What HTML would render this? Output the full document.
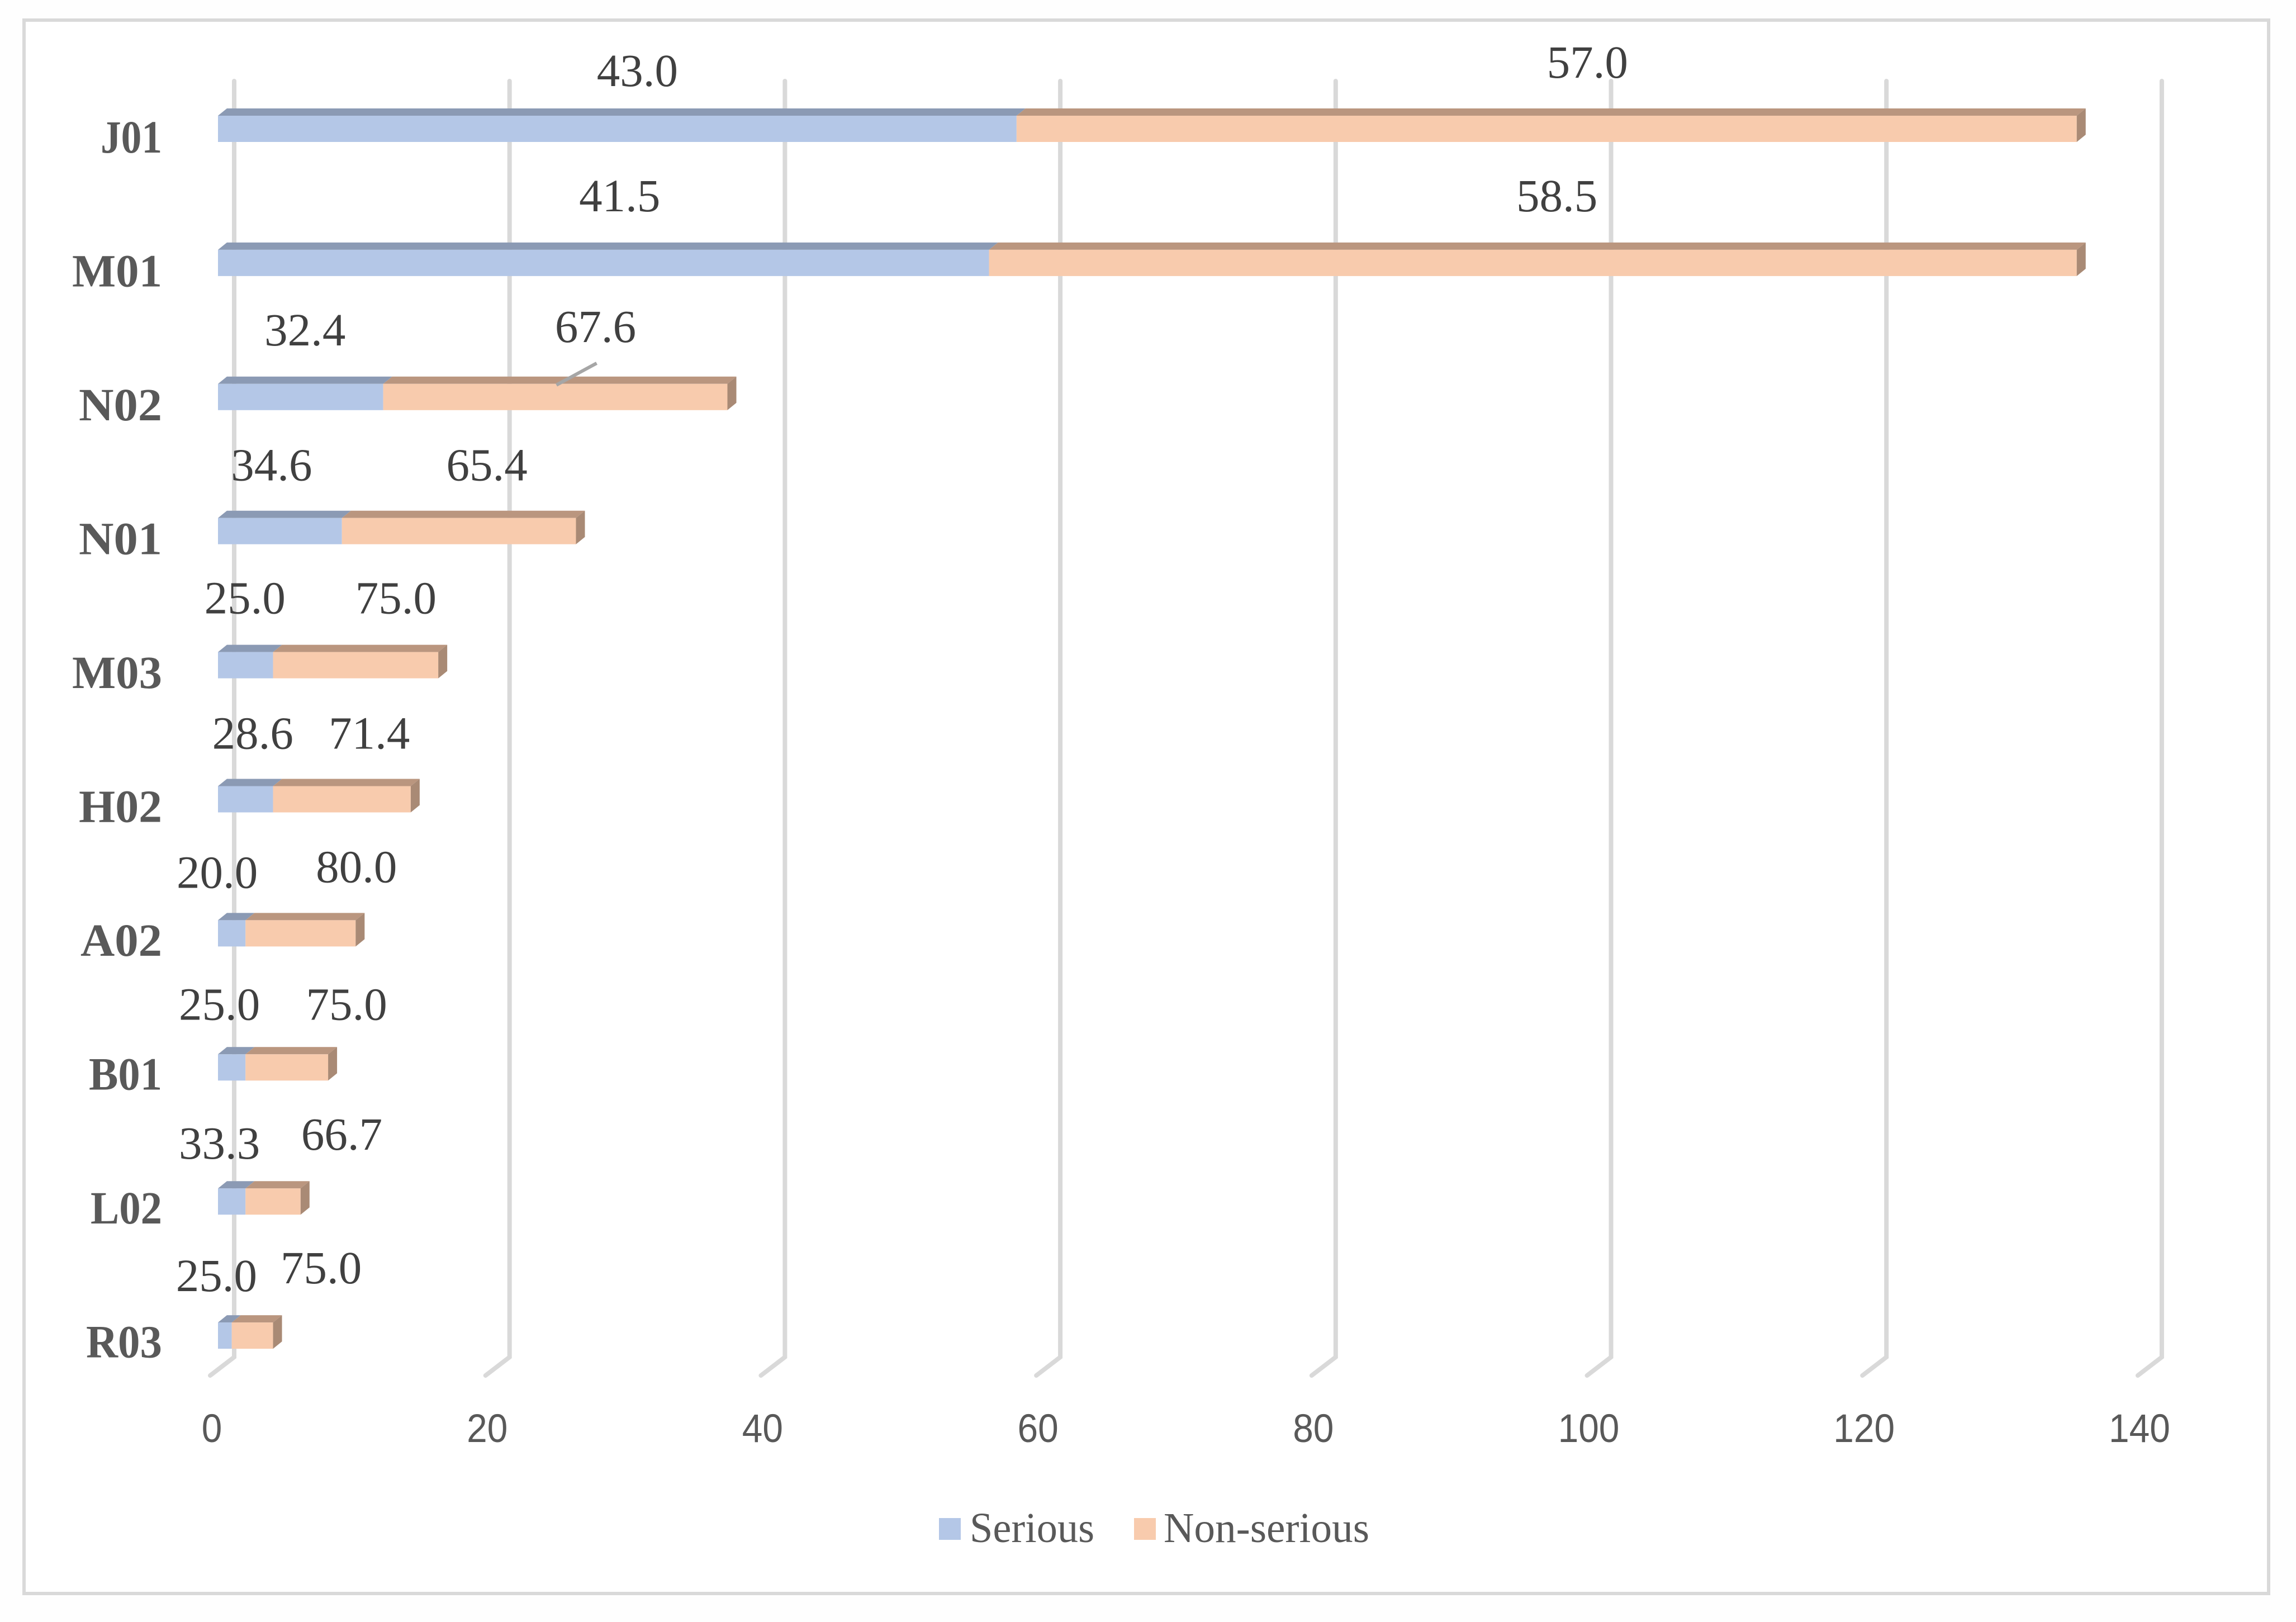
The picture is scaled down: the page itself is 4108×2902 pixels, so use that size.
<!DOCTYPE html>
<html lang="en">
<head>
<meta charset="utf-8">
<title>Serious and non-serious reports by ATC code</title>
<style>
html,body{margin:0;padding:0;background:#fff;}
svg{display:block;}
</style>
</head>
<body>
<svg id="chart" xmlns="http://www.w3.org/2000/svg" width="4108" height="2902" viewBox="0 0 4108 2902">
  <rect x="0" y="0" width="4108" height="2902" fill="#fefefe"/>
  <rect x="43" y="36" width="4016" height="2815" fill="#fff" stroke="#d9d9d9" stroke-width="6"/>
  <g id="grid"></g>
  <g id="bars"></g>
  <g id="labels"></g>
  <g id="cats"></g>
  <g id="ticks"></g>
  <g>
    <g>
      <rect x="1680" y="2716" width="39" height="39" fill="#b4c7e7"/>
      <text x="1735" y="2759" font-family="'Liberation Serif',serif" font-size="76" fill="#595959" textLength="223" lengthAdjust="spacingAndGlyphs">Serious</text>
    </g>
    <g>
      <rect x="2029" y="2716" width="39" height="39" fill="#f8cbad"/>
      <text x="2082" y="2759" font-family="'Liberation Serif',serif" font-size="76" fill="#595959" textLength="368" lengthAdjust="spacingAndGlyphs">Non-serious</text>
    </g>
  </g>
</svg>
<script>
const categories = ["J01","M01","N02","N01","M03","H02","A02","B01","L02","R03"];
const seriousCounts = [58,56,12,9,4,4,2,2,2,1];
const nonSeriousCounts = [77,79,25,17,12,10,8,6,4,3];
const seriousPercents = ["43.0","41.5","32.4","34.6","25.0","28.6","20.0","25.0","33.3","25.0"];
const nonSeriousPercents = ["57.0","58.5","67.6","65.4","75.0","71.4","80.0","75.0","66.7","75.0"];
const tickValues = [0,20,40,60,80,100,120,140];

/* hand-placed label offsets from each segment's centre (layout, not data) */
const seriousLabelNudge = [[36,-100],[29,-116],[8,-116],[-15,-114],[-1,-116],[13,-114],[-26,-105],[-22,-109],[-22,-100],[-15,-103]];
const nonSeriousLabelNudge = [[73,-115],[43,-116],[72,-122],[50,-114],[72,-116],[49,-114],[100,-115],[107,-109],[123,-116],[123,-117]];
/* approximate width of each leading letter in the category-label typeface */
const leadingLetterWidth = {J:27, M:78, N:66, H:66, A:63, B:48, L:45, R:53};

const NS = "http://www.w3.org/2000/svg";
const xScale = v => 390 + v * 24.635;
const gridX = v => 419 + v * 24.635;
const rowBottom = i => 254 + i * 239.9;
const FRONT_H = 47, DEPTH_X = 16, DEPTH_Y = 13;

function mk(tag, attrs, parent) {
  const el = document.createElementNS(NS, tag);
  for (const k in attrs) el.setAttribute(k, attrs[k]);
  parent.appendChild(el);
  return el;
}

const gridG = document.getElementById("grid");
const barsG = document.getElementById("bars");
const labelsG = document.getElementById("labels");
const catsG = document.getElementById("cats");
const ticksG = document.getElementById("ticks");

tickValues.forEach(t => {
  const gx = gridX(t);
  const line = mk("polyline", {
    points: `${gx},145 ${gx},2428 ${gx - 43},2461`,
    fill: "none", stroke: "#d9d9d9", "stroke-width": 8,
    "stroke-linecap": "round", "stroke-linejoin": "miter"
  }, gridG);
  
  

  const s = String(t);
  const label = mk("text", {
    x: gx - 40, y: 2580, "text-anchor": "middle",
    "font-family": "'Liberation Sans',sans-serif", "font-size": 71, fill: "#595959",
    textLength: s.length * 36.6, lengthAdjust: "spacingAndGlyphs"
  }, ticksG);
  label.textContent = s;
  
  
});

function segment(parent, x0, x1, bottom, front, top) {
  const y0 = bottom - FRONT_H;
  const topFace = mk("polygon", {
    points: `${x0},${y0} ${x0 + DEPTH_X},${y0 - DEPTH_Y} ${x1 + DEPTH_X},${y0 - DEPTH_Y} ${x1},${y0}`,
    fill: top
  }, parent);
  
  
  const frontFace = mk("rect", { x: x0, y: y0, width: x1 - x0, height: FRONT_H, fill: front }, parent);
  
  
}

categories.forEach((cat, i) => {
  const b = rowBottom(i);
  const s = seriousCounts[i], n = nonSeriousCounts[i];
  const xa = xScale(0), xb = xScale(s), xc = xScale(s + n);

  const row = mk("g", {}, barsG);
  
  

  segment(row, xa, xb, b, "#b4c7e7", "#8b9ab4");
  segment(row, xb, xc, b, "#f8cbad", "#ba967f");

  const side = mk("polygon", {
    points: `${xc},${b - FRONT_H} ${xc + DEPTH_X},${b - FRONT_H - DEPTH_Y} ${xc + DEPTH_X},${b - DEPTH_Y} ${xc},${b}`,
    fill: "#a98a75"
  }, row);
  
  

  const sx = (xa + xb) / 2 + seriousLabelNudge[i][0];
  const sy = b + seriousLabelNudge[i][1];
  const nx = (xb + xc) / 2 + nonSeriousLabelNudge[i][0];
  const ny = b + nonSeriousLabelNudge[i][1];

  const sl = mk("text", {
    x: sx, y: sy, "text-anchor": "middle",
    "font-family": "'Liberation Serif',serif", "font-size": 83, fill: "#404040"
  }, labelsG);
  sl.textContent = seriousPercents[i];
  
  

  const nl = mk("text", {
    x: nx, y: ny, "text-anchor": "middle",
    "font-family": "'Liberation Serif',serif", "font-size": 83, fill: "#404040"
  }, labelsG);
  nl.textContent = nonSeriousPercents[i];
  
  

  if (cat === "N02") {
    const leader = mk("line", {
      x1: nx + 2, y1: b - 84, x2: (xb + xc) / 2 + 2, y2: b - 45,
      stroke: "#a6a6a6", "stroke-width": 6
    }, labelsG);
    
    
  }

  const cl = mk("text", {
    x: 290, y: 273 + i * 239.5, "text-anchor": "end",
    "font-family": "'Liberation Serif',serif", "font-size": 83, "font-weight": "bold", fill: "#595959",
    textLength: 83 + leadingLetterWidth[cat[0]], lengthAdjust: "spacingAndGlyphs"
  }, catsG);
  cl.textContent = cat;
  
  
});
</script>
</body>
</html>
